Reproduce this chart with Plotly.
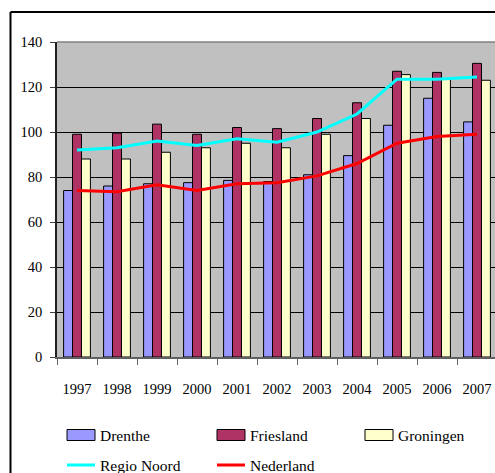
import plotly.graph_objects as go

# Index values per year for the three northern provinces, the region and the country
years = ["1997", "1998", "1999", "2000", "2001", "2002", "2003", "2004", "2005", "2006", "2007"]
drenthe = [74, 76, 77, 77.5, 78.5, 78, 81, 89.5, 103, 115, 104.5]
friesland = [99, 99.5, 103.5, 99, 102, 101.5, 106, 113, 127, 126.5, 130.5]
groningen = [88, 88, 91, 93, 95, 93, 99, 106, 125.5, 123.5, 123]
regio_noord = [92, 93, 96, 94, 97, 95.5, 100, 108, 123.5, 123.5, 124.5]
nederland = [74, 73.5, 76.5, 74, 77, 77.5, 80.5, 86, 95, 98, 99]

bar_names = ["Drenthe", "Friesland", "Groningen"]
bar_values = [drenthe, friesland, groningen]
bar_colors = ["#9999FF", "#B03366", "#FFFFCC"]
line_names = ["Regio Noord", "Nederland"]
line_values = [regio_noord, nederland]
line_colors = ["#00FFFF", "#FF0000"]

W, H = 495, 473
ML, MT, MB = 57, 42, 116
PW, PH = W - ML, H - MT - MB
FONT = "Liberation Serif"


def px(x):
    return (x - ML) / PW


def py(y):
    return (H - MB - y) / PH


fig = go.Figure()
for name, vals, col in zip(bar_names, bar_values, bar_colors):
    fig.add_trace(go.Bar(x=years, y=vals, name=name, marker_color=col,
                         marker_line=dict(color="#000000", width=1),
                         showlegend=False))
for name, vals, col in zip(line_names, line_values, line_colors):
    fig.add_trace(go.Scatter(x=years, y=vals, name=name, mode="lines",
                             line=dict(color=col, width=3), showlegend=False))

shapes = [
    # chart frame
    dict(type="line", xref="paper", yref="paper", x0=px(10.5), x1=px(W), y0=py(12), y1=py(12),
         line=dict(color="#000000", width=2)),
    dict(type="line", xref="paper", yref="paper", x0=px(10.5), x1=px(10.5), y0=py(12), y1=py(H),
         line=dict(color="#000000", width=2)),
    # plot-area top edge
    dict(type="line", xref="paper", yref="paper", x0=0, x1=1, y0=1, y1=1,
         line=dict(color="#808080", width=1.5)),
]
annotations = []

# legend: boxes for the bar series, short strokes for the lines
col_x = [67, 217, 365]
row_y = [435, 465]
sw = 28
for i, (name, col) in enumerate(zip(bar_names, bar_colors)):
    x0 = col_x[i]
    shapes.append(dict(type="rect", xref="paper", yref="paper",
                       x0=px(x0), x1=px(x0 + sw), y0=py(row_y[0] + 5.5), y1=py(row_y[0] - 5.5),
                       fillcolor=col, line=dict(color="#000000", width=1)))
    annotations.append(dict(xref="paper", yref="paper", x=px(x0 + sw + 3), y=py(row_y[0]),
                            text=name, showarrow=False, xanchor="left", yanchor="middle",
                            font=dict(family=FONT, size=15.5, color="#000000")))
for i, (name, col) in enumerate(zip(line_names, line_colors)):
    x0 = col_x[i]
    shapes.append(dict(type="line", xref="paper", yref="paper",
                       x0=px(x0), x1=px(x0 + sw), y0=py(row_y[1]), y1=py(row_y[1]),
                       line=dict(color=col, width=3)))
    annotations.append(dict(xref="paper", yref="paper", x=px(x0 + sw + 3), y=py(row_y[1]),
                            text=name, showarrow=False, xanchor="left", yanchor="middle",
                            font=dict(family=FONT, size=15.5, color="#000000")))

fig.update_layout(
    width=W, height=H,
    margin=dict(l=ML, r=0, t=MT, b=MB),
    paper_bgcolor="#FFFFFF",
    plot_bgcolor="#C0C0C0",
    barmode="group", bargap=0.33, bargroupgap=0,
    font=dict(family=FONT, size=14.5, color="#000000"),
    shapes=shapes, annotations=annotations,
    xaxis=dict(type="category", range=[-0.5, 10.45], tickson="boundaries",
               ticks="outside", ticklen=6, tickcolor="#606060", tickwidth=1,
               showline=True, linecolor="#606060", linewidth=1.5,
               showgrid=False, ticklabelstandoff=18, fixedrange=True),
    yaxis=dict(range=[0, 140], dtick=20, ticks="outside", ticklen=5,
               tickcolor="#404040", showline=True, linecolor="#202020", linewidth=1.5,
               showgrid=True, gridcolor="#000000", gridwidth=1, zeroline=False,
               ticklabelstandoff=5, fixedrange=True),
)

fig.write_html("out.html")
